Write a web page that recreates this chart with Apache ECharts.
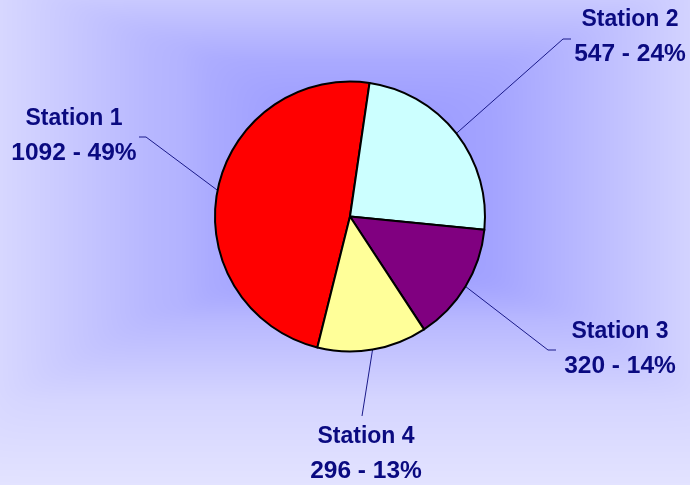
<!DOCTYPE html>
<html>
<head>
<meta charset="utf-8">
<style>
html,body{margin:0;padding:0;background:#c4c4fe;}
#chart{width:690px;height:485px;}
</style>
<script src="https://cdn.jsdelivr.net/npm/echarts@6/dist/echarts.min.js"></script>
</head>
<body>
<div id="chart"></div>
<script>
const categories = ['Station 1', 'Station 2', 'Station 3', 'Station 4'];
const values = [1092, 547, 320, 296];
const percentLabels = [49, 24, 14, 13];
const sliceColors = ['#ff0000', '#ccffff', '#800080', '#ffff99'];

const W = 690, H = 485;

// background shading profiles (decoration only)
const hProfile = [[0, 216], [150, 184], [180, 180], [210, 172], [345, 148], [490, 164], [500, 166], [690, 212]];
const vProfile = [[0, 202], [60, 171], [120, 155], [200, 146], [260, 150], [320, 185], [400, 214], [485, 228]];

function interp(prof, t) {
  if (t <= prof[0][0]) return prof[0][1];
  for (let i = 1; i < prof.length; i++) {
    if (t <= prof[i][0]) {
      const a = prof[i - 1], b = prof[i];
      return a[1] + (b[1] - a[1]) * (t - a[0]) / (b[0] - a[0]);
    }
  }
  return prof[prof.length - 1][1];
}

function makeBackground() {
  const c = document.createElement('canvas');
  c.width = W; c.height = H;
  const ctx = c.getContext('2d');
  const img = ctx.createImageData(W, H);
  const hv = [], vv = [];
  for (let x = 0; x < W; x++) hv.push(interp(hProfile, x));
  for (let y = 0; y < H; y++) vv.push(interp(vProfile, y));
  const s = 3;
  for (let y = 0; y < H; y++) {
    for (let x = 0; x < W; x++) {
      const a = hv[x], b = vv[y];
      const m = Math.max(a, b);
      const v = m + s * Math.log(Math.exp((a - m) / s) + Math.exp((b - m) / s)) - s * Math.log(2) * 0.5;
      const k = (y * W + x) * 4;
      const val = Math.max(0, Math.min(255, Math.round(v)));
      img.data[k] = val;
      img.data[k + 1] = val;
      img.data[k + 2] = 255;
      img.data[k + 3] = 255;
    }
  }
  ctx.putImageData(img, 0, 0);
  return c;
}

const labelLayoutConf = [
  { x: 74, y: 136, elbow: [146, 137], end: [139, 137] },
  { x: 630, y: 37, elbow: [563, 39], end: [571, 39] },
  { x: 620, y: 349, elbow: [548, 350], end: [556, 350] },
  { x: 366, y: 454, elbow: [362, 416], end: [362, 416] }
];

const chart = echarts.init(document.getElementById('chart'), null, { renderer: 'canvas' });

const option = {
  backgroundColor: '#c4c4fe',
  animation: false,
  graphic: [
    { type: 'image', z: -10, silent: true, left: 0, top: 0,
      style: { image: makeBackground(), x: 0, y: 0, width: W, height: H } }
  ],
  series: [{
    type: 'pie',
    center: [350, 216.5],
    radius: 135,
    startAngle: 256,
    clockwise: true,
    avoidLabelOverlap: false,
    data: categories.map((c, i) => ({
      name: c,
      value: values[i],
      itemStyle: { color: sliceColors[i] }
    })),
    itemStyle: { borderColor: '#000000', borderWidth: 2 },
    label: {
      show: true,
      position: 'outside',
      formatter: (p) => '{n|' + p.name + '}\n{v|' + values[p.dataIndex] + ' - ' + percentLabels[p.dataIndex] + '%}',
      rich: {
        n: {
          fontFamily: '"Liberation Sans", Arial, sans-serif',
          fontWeight: 'bold', fontSize: 23, lineHeight: 34, color: '#0a0a80', align: 'center'
        },
        v: {
          fontFamily: '"Liberation Sans", Arial, sans-serif',
          fontWeight: 'bold', fontSize: 24.5, lineHeight: 34, color: '#0a0a80', align: 'center'
        }
      },
      color: '#0a0a80',
      align: 'center'
    },
    labelLine: {
      show: true,
      length: 20,
      length2: 10,
      lineStyle: { color: '#1a1a8a', width: 1 }
    },
    labelLayout: function (params) {
      const conf = labelLayoutConf[params.dataIndex];
      const start = params.labelLinePoints ? params.labelLinePoints[0] : conf.elbow;
      return {
        x: conf.x,
        y: conf.y,
        align: 'center',
        verticalAlign: 'middle',
        labelLinePoints: [start, conf.elbow, conf.end]
      };
    },
    emphasis: { disabled: true }
  }]
};
chart.setOption(option);
</script>
</body>
</html>
